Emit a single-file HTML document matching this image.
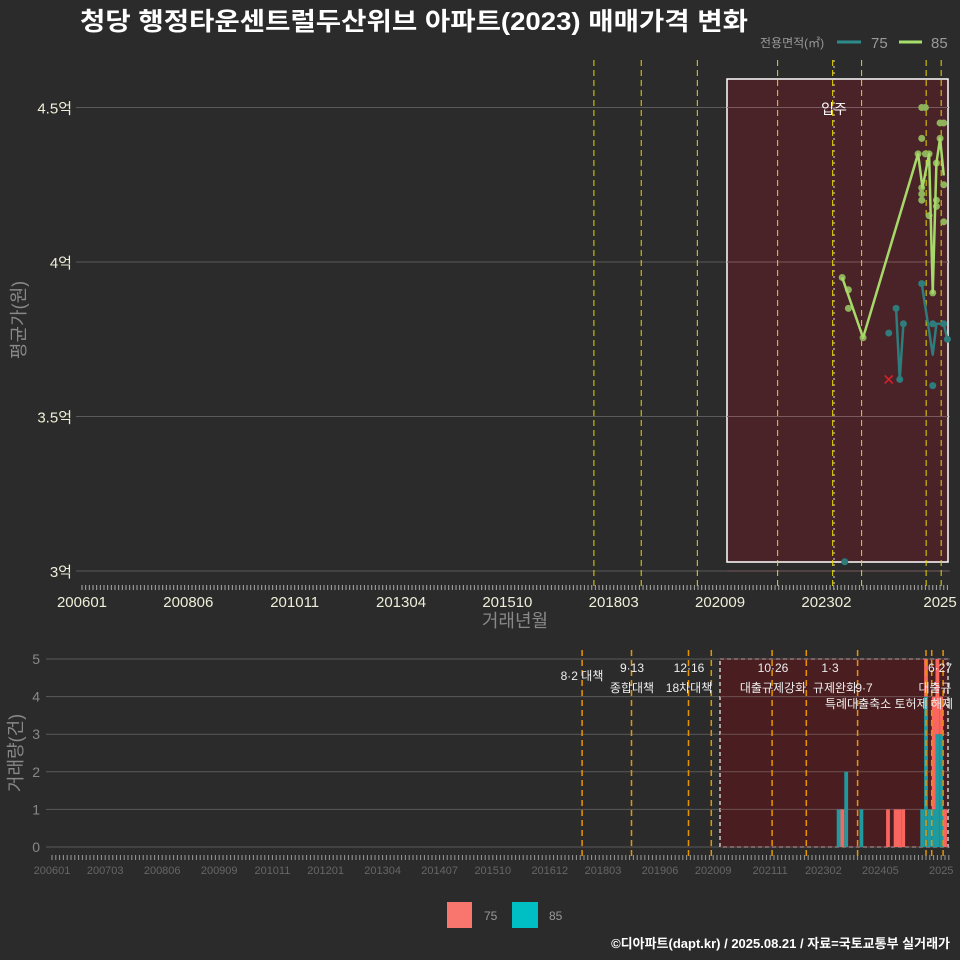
<!DOCTYPE html>
<html><head><meta charset="utf-8"><style>
html,body{margin:0;padding:0;background:#2b2b2b;}
svg{display:block;font-family:"Liberation Sans","Noto Sans CJK KR",sans-serif;}
</style></head><body>
<svg id="c" width="960" height="960" viewBox="0 0 960 960">
<rect width="960" height="960" fill="#2b2b2b"/>
<text x="80" y="30" font-size="25" font-weight="bold" fill="#fff" textLength="668" lengthAdjust="spacingAndGlyphs">청당 행정타운센트럴두산위브 아파트(2023) 매매가격 변화</text>
<g>
<text x="760" y="47" font-size="12" fill="#999">전용면적(㎡)</text>
<line x1="837" y1="42" x2="861" y2="42" stroke="#2e8b8b" stroke-width="3"/>
<text x="871" y="48" font-size="15" fill="#999">75</text>
<line x1="899" y1="42" x2="922" y2="42" stroke="#a6e06a" stroke-width="3"/>
<text x="931" y="48" font-size="15" fill="#999">85</text>
</g>
<g id="topPanel"></g>
<g id="botPanel"></g>
<text x="515" y="627" font-size="18" fill="#888" text-anchor="middle">거래년월</text>
<text transform="translate(25,320) rotate(-90)" font-size="18" fill="#888" text-anchor="middle">평균가(원)</text>
<text transform="translate(22,753) rotate(-90)" font-size="18" fill="#888" text-anchor="middle">거래량(건)</text>
<g>
<rect x="447" y="902" width="25" height="26" fill="#f8766d"/>
<text x="484" y="920" font-size="12" fill="#999">75</text>
<rect x="512" y="902" width="26" height="26" fill="#00bfc4"/>
<text x="549" y="920" font-size="12" fill="#999">85</text>
</g>
<text x="950" y="948" font-size="13" font-weight="bold" fill="#fff" text-anchor="end">©디아파트(dapt.kr) / 2025.08.21 / 자료=국토교통부 실거래가</text>
</svg>
<script>
const topTickLabels = ["200601","200806","201011","201304","201510","201803","202009","202302","2025"];
const topTickMonths = [0,29,58,87,116,145,174,203,234];
const priceTicks = [3,3.5,4,4.5];
const priceTickLabels = ["3억","3.5억","4억","4.5억"];
const policyMonthsTop = [139.6,152.5,167.8,189.7,204.7,212.6,230.2,234.3];
const m85 = [207.3,209,209,213,228,229,229,229,229,229,230,230,231,231,232,233,233,233,234,234,235,235,235];
const p85 = [3.95,3.91,3.85,3.755,4.35,4.5,4.4,4.22,4.20,4.24,4.5,4.35,4.35,4.15,3.90,4.2,4.32,4.18,4.40,4.45,4.45,4.25,4.13];
const line85m = [207.3,213,228,229.2,231,232,233,234,235];
const line85p = [3.95,3.755,4.35,4.24,4.35,3.90,4.32,4.40,4.28];
const m75 = [220,222,223,224,229,232,232,235,236,208];
const p75 = [3.77,3.85,3.62,3.80,3.93,3.80,3.60,3.80,3.75,3.03];
const line75aM = [222,223,224];
const line75aP = [3.85,3.62,3.80];
const line75bM = [229,232,233,234,235,236];
const line75bP = [3.93,3.70,3.80,3.80,3.80,3.75];
const cancelM = [220];
const cancelP = [3.62];
const botTickLabels = ["200601","200703","200806","200909","201011","201201","201304","201407","201510","201612","201803","201906","202009","202111","202302","202405","2025"];
const botTickMonths = [0,14,29,44,58,72,87,102,116,131,145,160,174,189,203,218,234];
const volTicks = [0,1,2,3,4,5];
const barMonths = [207,208,209,213,220,222,223,224,229,230,231,232,233,234,235];
const vol85 = [1,0,2,1,0,0,0,0,1,4,1,1,3,3,0];
const vol75 = [0,1,0,0,1,1,1,1,0,1,0,3,2,1,1];
const policyMonthsBot = [139.5,152.5,167.5,173.5,189.5,198.5,212,230,231.5,234.5];
const policyLabels = [["8·2 대책",582,680],["9·13",632,672],["종합대책",632,692],["12·16",689,672],["18차대책",689,692],["10·26",773,672],["대출규제강화",773,692],["1·3",830,672],["규제완화",835,692],["9·7",864,692],["특례대출축소 토허제 해제",889,708],["6·27",940,672],["대출규",935,692]];

const NS="http://www.w3.org/2000/svg";
function mk(parent,tag,attrs){const e=document.createElementNS(NS,tag);for(const k in attrs)e.setAttribute(k,attrs[k]);parent.appendChild(e);return e;}
const topG=document.getElementById('topPanel'), botG=document.getElementById('botPanel');
const xT=m=>82+m*3.667, yT=p=>571-(p-3)*309;
const xB=m=>52+m*3.8, yB=v=>847-v*37.6;

for(let i=0;i<priceTicks.length;i++){
  const g=mk(topG,'line',{x1:76,x2:950,y1:yT(priceTicks[i]),y2:yT(priceTicks[i]),stroke:'#5a5a5a','stroke-width':1});
  
  
  const t=mk(topG,'text',{x:72,y:yT(priceTicks[i])+6,'font-size':15,fill:'#eeeed8','text-anchor':'end'});t.textContent=priceTickLabels[i];
  
  
}
const sh=mk(topG,'rect',{x:727,y:79,width:221,height:483,fill:'#4a2328',stroke:'#fff','stroke-width':1.5});


for(let i=0;i<priceTicks.length;i++){
  const g=mk(topG,'line',{x1:727,x2:948,y1:yT(priceTicks[i]),y2:yT(priceTicks[i]),stroke:'#7a5a5e','stroke-width':1});
  
  
}
const ip=mk(topG,'text',{x:834,y:114,'font-size':14,fill:'#fff','text-anchor':'middle'});ip.textContent='입주';


const mv=mk(topG,'line',{x1:834,x2:834,y1:60,y2:590,stroke:'#ddd','stroke-dasharray':'2,4','stroke-width':1});


for(const m of policyMonthsTop){
  const l=mk(topG,'line',{x1:xT(m),x2:xT(m),y1:60,y2:590,stroke:'#e6d600','stroke-dasharray':'6,4','stroke-width':1});
  
  
}
let ticks='';for(let m=0;m<=236;m++){ticks+=`M${xT(m)},585v5`;}
const tk=mk(topG,'path',{d:ticks,stroke:'#aaa','stroke-width':1});


for(let i=0;i<topTickLabels.length;i++){
  const t=mk(topG,'text',{x:xT(topTickMonths[i]),y:607,'font-size':15,fill:'#eeeed8','text-anchor':'middle'});t.textContent=topTickLabels[i];
  
  
}
function poly(g,ms,ps,col,name){
  const l=mk(g,'polyline',{points:ms.map((m,i)=>xT(m)+','+yT(ps[i])).join(' '),fill:'none',stroke:col,'stroke-width':2.5,'stroke-linejoin':'round'});
  
  
}
for(let i=0;i<m75.length;i++){
  const c=mk(topG,'circle',{cx:xT(m75[i]),cy:yT(p75[i]),r:3.5,fill:'#2e7c7c'});
  
  
}
poly(topG,line75aM,line75aP,'#2e7c7c','line-75');
poly(topG,line75bM,line75bP,'#2e7c7c','line-75');
for(let i=0;i<m85.length;i++){
  const c=mk(topG,'circle',{cx:xT(m85[i]),cy:yT(p85[i]),r:3.5,fill:'#8fb35a'});
  
  
}
poly(topG,line85m,line85p,'#a6d96a','line-85');
for(let i=0;i<cancelM.length;i++){
  const x=xT(cancelM[i]),y=yT(cancelP[i]);
  const c=mk(topG,'path',{d:`M${x-4},${y-4}L${x+4},${y+4}M${x+4},${y-4}L${x-4},${y+4}`,stroke:'#e0202a','stroke-width':1.5});
  
  
}

for(const v of volTicks){
  const g=mk(botG,'line',{x1:46,x2:950,y1:yB(v),y2:yB(v),stroke:'#5a5a5a','stroke-width':1});
  
  
  const t=mk(botG,'text',{x:40,y:yB(v)+5,'font-size':14,fill:'#888','text-anchor':'end'});t.textContent=v;
  
  
}
const sb=mk(botG,'rect',{x:720,y:659,width:228,height:188,fill:'#4a1e20',stroke:'#ccc','stroke-width':1.5,'stroke-dasharray':'4,3'});


for(const v of volTicks){
  const g=mk(botG,'line',{x1:720,x2:948,y1:yB(v),y2:yB(v),stroke:'#6e5052','stroke-width':1});
  
  
}
for(let i=0;i<barMonths.length;i++){
  const x=xB(barMonths[i])-1.9;
  if(vol85[i]>0){const r=mk(botG,'rect',{x:x,y:yB(vol85[i]),width:3.8,height:vol85[i]*37.6,fill:'#1e9aa0'});
    
    }
  if(vol75[i]>0){const r=mk(botG,'rect',{x:x,y:yB(vol85[i]+vol75[i]),width:3.8,height:vol75[i]*37.6,fill:'#f8665f'});
    
    }
}
for(const m of policyMonthsBot){
  const l=mk(botG,'line',{x1:xB(m),x2:xB(m),y1:650,y2:857,stroke:'#e69500','stroke-dasharray':'6,4','stroke-width':1.5});
  
  
}
for(const p of policyLabels){
  const t=mk(botG,'text',{x:p[1],y:p[2],'font-size':12,fill:'#eee','text-anchor':'middle'});t.textContent=p[0];
  
  
}
let t2='';for(let m=0;m<=236;m++){t2+=`M${xB(m)},855v5`;}
const tk2=mk(botG,'path',{d:t2,stroke:'#999','stroke-width':1});


for(let i=0;i<botTickLabels.length;i++){
  const t=mk(botG,'text',{x:xB(botTickMonths[i]),y:874,'font-size':11,fill:'#666','text-anchor':'middle'});t.textContent=botTickLabels[i];
  
  
}
</script>
</body></html>
